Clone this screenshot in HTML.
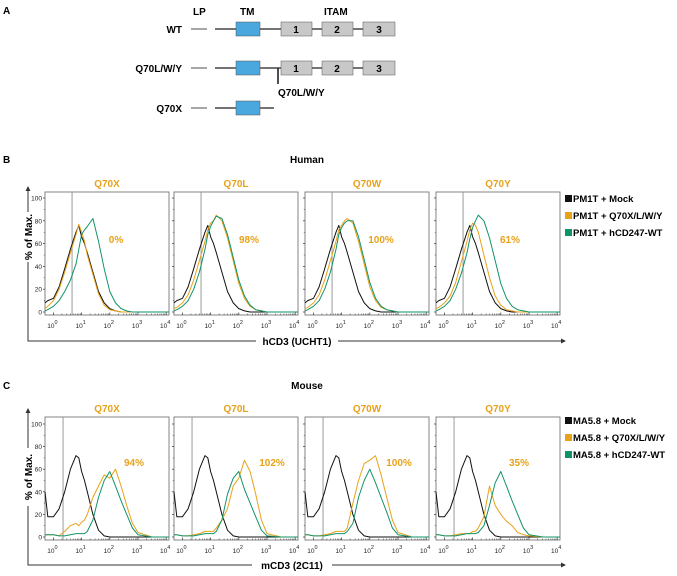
<!DOCTYPE html>
<html><head><meta charset="utf-8"><style>
html,body{margin:0;padding:0;background:#fff;}
svg{display:block;font-family:"Liberation Sans",Arial,sans-serif;}
</style></head><body>
<svg id="fig" width="677" height="576" viewBox="0 0 677 576">
<!-- Panel A -->
<g font-weight="bold" font-size="10">
<text x="3" y="14">A</text>
<text x="193" y="15">LP</text>
<text x="240" y="15">TM</text>
<text x="324" y="15">ITAM</text>
<text x="182" y="33" text-anchor="end">WT</text>
<g stroke="#222" stroke-width="1.3">
<line x1="191" y1="29" x2="207" y2="29" stroke-width="0.8"/>
<line x1="215" y1="29" x2="395" y2="29"/>
<rect x="236" y="22" width="24" height="14" fill="#4aa8df" stroke="#555" stroke-width="0.5"/>
<rect x="281" y="22" width="31" height="14" fill="#c8c8c8" stroke="#555" stroke-width="0.5"/>
<rect x="322" y="22" width="31" height="14" fill="#c8c8c8" stroke="#555" stroke-width="0.5"/>
<rect x="363" y="22" width="32" height="14" fill="#c8c8c8" stroke="#555" stroke-width="0.5"/>
</g>
<g font-size="10"><text x="296" y="33" text-anchor="middle">1</text><text x="337" y="33" text-anchor="middle">2</text><text x="379" y="33" text-anchor="middle">3</text></g>
<text x="182" y="72" text-anchor="end">Q70L/W/Y</text>
<g stroke="#222" stroke-width="1.3">
<line x1="191" y1="68" x2="207" y2="68" stroke-width="0.8"/>
<line x1="215" y1="68" x2="395" y2="68"/>
<line x1="278" y1="68" x2="278" y2="84" stroke-width="1.6"/>
<rect x="236" y="61" width="24" height="14" fill="#4aa8df" stroke="#555" stroke-width="0.5"/>
<rect x="281" y="61" width="31" height="14" fill="#c8c8c8" stroke="#555" stroke-width="0.5"/>
<rect x="322" y="61" width="31" height="14" fill="#c8c8c8" stroke="#555" stroke-width="0.5"/>
<rect x="363" y="61" width="32" height="14" fill="#c8c8c8" stroke="#555" stroke-width="0.5"/>
</g>
<g font-size="10"><text x="296" y="72" text-anchor="middle">1</text><text x="337" y="72" text-anchor="middle">2</text><text x="379" y="72" text-anchor="middle">3</text></g>
<text x="278" y="96">Q70L/W/Y</text>
<text x="182" y="112" text-anchor="end">Q70X</text>
<g stroke="#222" stroke-width="1.3">
<line x1="191" y1="108" x2="207" y2="108" stroke-width="0.8"/>
<line x1="215" y1="108" x2="274" y2="108"/>
<rect x="236" y="101" width="24" height="14" fill="#4aa8df" stroke="#555" stroke-width="0.5"/>
</g>
</g>
<g id="charts"></g>
</svg>
<script>
const xsLog = [-0.3,-0.2,0,0.2,0.4,0.6,0.8,0.9,1.0,1.1,1.2,1.4,1.6,1.8,2.0,2.2,2.4,2.6,2.8,3.0,3.5,4.1];
const panelTitles = ["Q70X","Q70L","Q70W","Q70Y"];
const xTickDecades = [0,1,2,3,4];
const yTickValues = [0,20,40,60,80,100];
// Human (panel B)
const humanPercent = ["0%","98%","100%","61%"];
const humanMock = [8,10,12,22,38,55,70,76,66,60,52,35,18,8,3,1,0,0,0,0,0,0];
const humanMutX = [3,5,10,20,35,52,68,77,70,62,50,33,16,6,2,1,0,0,0,0,0,0];
const humanMutL = [3,4,8,15,28,45,62,72,78,80,85,80,65,45,25,12,5,2,1,0,0,0];
const humanMutW = [3,4,8,15,28,45,62,72,76,80,82,78,62,42,22,10,4,2,1,0,0,0];
const humanMutY = [3,4,8,14,26,44,62,72,78,76,70,50,30,14,6,2,1,0,0,0,0,0];
const humanWtX = [1,2,5,10,18,28,42,55,68,72,75,82,62,38,18,8,3,1,0,0,0,0];
const humanWtL = [1,2,5,10,20,35,55,68,75,80,84,82,68,48,28,14,6,2,1,0,0,0];
const humanWtW = [1,2,5,10,20,35,55,68,74,78,80,80,66,46,26,12,5,2,1,0,0,0];
const humanWtY = [1,2,5,10,20,34,52,64,74,80,85,80,65,45,25,12,5,2,1,0,0,0];
const humanGate = 0.66;
// Mouse (panel C)
const mousePercent = ["94%","102%","100%","35%"];
const mouseMock = [40,18,18,25,40,60,72,70,58,50,40,20,6,1,0,0,0,0,0,0,0,0];
const mouseMutX = [2,2,2,1,5,10,12,10,13,15,20,35,45,55,52,60,45,28,12,4,0,0];
const mouseMutL = [2,2,1,1,2,3,5,5,5,5,8,15,25,45,52,68,58,38,15,3,0,0];
const mouseMutW = [2,2,1,1,2,3,5,5,5,5,8,30,50,65,68,72,55,35,15,4,0,0];
const mouseMutY = [2,2,1,1,2,3,3,3,5,5,8,18,45,28,20,14,10,4,2,1,0,0];
const mouseWtX = [2,2,2,1,1,2,3,3,3,3,5,15,35,50,58,45,32,20,8,2,0,0];
const mouseWtL = [2,2,1,1,1,2,3,3,3,3,5,15,38,52,58,42,30,18,6,1,0,0];
const mouseWtW = [2,2,1,1,1,2,3,3,3,3,5,12,35,50,60,48,35,22,8,2,0,0];
const mouseWtY = [2,2,1,1,1,2,3,3,3,3,4,10,28,48,58,45,32,20,8,2,0,0];
const mouseGate = 0.34;

const NS="http://www.w3.org/2000/svg";
const root=document.getElementById('charts');
function mk(tag,attrs,parent){const e=document.createElementNS(NS,tag);for(const k in attrs)e.setAttribute(k,attrs[k]);(parent||root).appendChild(e);return e;}
const BLACK="#111",ORANGE="#e8a21a",GREEN="#11936a";
const boxX=[45,174,305,436], boxW=124;
const xMin=-0.3,xMax=4.1;

function drawBlock(cfg){
  const g=mk('g',{});
  
  
  const top=cfg.top,bot=cfg.bot;
  const ys=v=>cfg.y0-(v/100)*(cfg.y0-cfg.y100);
  for(let i=0;i<4;i++){
    const x0=boxX[i];
    const xs=l=>x0+(l-xMin)/(xMax-xMin)*boxW;
    const pg=mk('g',{},g);
    
    
    const t=mk('text',{x:x0+boxW/2,y:top-5,'text-anchor':'middle','font-size':'10','font-weight':'bold',fill:ORANGE},pg);
    t.textContent=panelTitles[i];
    
    
    const fr=mk('rect',{x:x0,y:top,width:boxW,height:bot-top,fill:'none',stroke:'#777','stroke-width':'0.9'},pg);
    
    
    const gl=mk('line',{x1:xs(cfg.gate),x2:xs(cfg.gate),y1:top,y2:bot,stroke:'#999','stroke-width':'1'},pg);
    
    
    // y ticks
    yTickValues.forEach(v=>{
      mk('line',{x1:x0-2,x2:x0,y1:ys(v),y2:ys(v),stroke:'#333','stroke-width':'0.7'},pg);
      if(v<100) mk('line',{x1:x0-1.2,x2:x0,y1:ys(v+10),y2:ys(v+10),stroke:'#333','stroke-width':'0.5'},pg);
      if(i===0){const tl=mk('text',{x:x0-3,y:ys(v)+2.5,'text-anchor':'end','font-size':'6.5',fill:'#222'},pg);tl.textContent=v;
        
        }
    });
    // x ticks
    xTickDecades.forEach(d=>{
      const px=xs(d);
      mk('line',{x1:px,x2:px,y1:bot,y2:bot-2.5,stroke:'#333','stroke-width':'0.7'},pg);
      if(d<4){for(let m=2;m<10;m++){const mp=xs(d+Math.log10(m));mk('line',{x1:mp,x2:mp,y1:bot,y2:bot-1.5,stroke:'#333','stroke-width':'0.5'},pg);}}
      const tl=mk('text',{x:px-1,y:bot+13,'text-anchor':'middle','font-size':'6.5',fill:'#222'},pg);
      tl.textContent='10';
      
      
      const sp=mk('tspan',{dy:'-4','font-size':'5.5'},tl);sp.textContent=d;
    });
    // series
    [[cfg.mock,BLACK,'mock'],[cfg.mut[i],ORANGE,'mutant'],[cfg.wt[i],GREEN,'wild-type']].forEach(s=>{
      const d=s[0].map((v,k)=>(k?'L':'M')+xs(xsLog[k]).toFixed(1)+','+ys(v).toFixed(1)).join('');
      const p=mk('path',{d:d,fill:'none',stroke:s[1],'stroke-width':'1','stroke-linejoin':'round'},pg);
      
      
    });
    const pc=mk('text',{x:cfg.pctX[i],y:cfg.pctY,'text-anchor':'middle','font-size':'10','font-weight':'bold',fill:ORANGE},pg);
    pc.textContent=cfg.pct[i];
    
    
  }
  // outer axes
  const ax=mk('path',{d:`M28,${cfg.yArrowTop+4} L28,${cfg.yLabTop} M28,${cfg.yLabBot} L28,${cfg.frameY} L${cfg.xLabL},${cfg.frameY} M${cfg.xLabR},${cfg.frameY} L562,${cfg.frameY}`,fill:'none',stroke:'#333','stroke-width':'1'},g);
  
  
  mk('path',{d:`M28,${cfg.yArrowTop} L25.5,${cfg.yArrowTop+5} L30.5,${cfg.yArrowTop+5}Z M566,${cfg.frameY} L561,${cfg.frameY-2.5} L561,${cfg.frameY+2.5}Z`,fill:'#333'},g);
  const yl=mk('text',{x:0,y:0,transform:`translate(32,${(cfg.yLabTop+cfg.yLabBot)/2}) rotate(-90)`,'text-anchor':'middle','font-size':'10','font-weight':'bold'},g);
  yl.textContent='% of Max.';
  
  
  const xl=mk('text',{x:(cfg.xLabL+cfg.xLabR)/2,y:cfg.frameY+4,'text-anchor':'middle','font-size':'10','font-weight':'bold'},g);
  xl.textContent=cfg.xTitle;
  
  
  const pl=mk('text',{x:3,y:cfg.headY,'font-size':'10','font-weight':'bold'},g);
  pl.textContent=cfg.letter;
  
  
  const sh=mk('text',{x:307,y:cfg.headY,'text-anchor':'middle','font-size':'10','font-weight':'bold'},g);
  sh.textContent=cfg.species;
  
  
  // legend
  cfg.legend.forEach((txt,k)=>{
    const ly=cfg.legY+k*17;
    const lg=mk('g',{},g);
    
    
    mk('rect',{x:565,y:ly-7,width:7,height:7,fill:[BLACK,ORANGE,GREEN][k]},lg);
    const lt=mk('text',{x:573,y:ly,'font-size':'9.5','font-weight':'bold'},lg);lt.textContent=txt;
  });
}
drawBlock({name:'panel-b-human',prefix:'human',top:192,bot:315,y0:312,y100:198,gate:humanGate,
  mock:humanMock,mut:[humanMutX,humanMutL,humanMutW,humanMutY],wt:[humanWtX,humanWtL,humanWtW,humanWtY],
  pct:humanPercent,pctX:[116,249,381,510],pctY:243,frameY:341,yArrowTop:186,yLabTop:212,yLabBot:262,
  xLabL:256,xLabR:338,xTitle:'hCD3 (UCHT1)',headY:163,letter:'B',species:'Human',
  legend:['PM1T + Mock','PM1T + Q70X/L/W/Y','PM1T + hCD247-WT'],legY:202});
drawBlock({name:'panel-c-mouse',prefix:'mouse',top:417,bot:540,y0:537,y100:424,gate:mouseGate,
  mock:mouseMock,mut:[mouseMutX,mouseMutL,mouseMutW,mouseMutY],wt:[mouseWtX,mouseWtL,mouseWtW,mouseWtY],
  pct:mousePercent,pctX:[134,272,399,519],pctY:466,frameY:565,yArrowTop:408,yLabTop:448,yLabBot:506,
  xLabL:252,xLabR:332,xTitle:'mCD3 (2C11)',headY:389,letter:'C',species:'Mouse',
  legend:['MA5.8 + Mock','MA5.8 + Q70X/L/W/Y','MA5.8 + hCD247-WT'],legY:424});
</script>
</body></html>
